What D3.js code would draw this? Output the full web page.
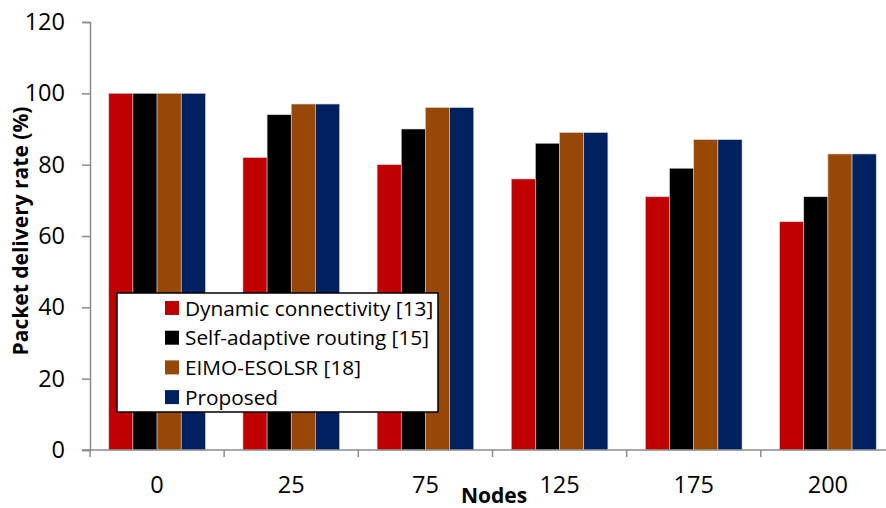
<!DOCTYPE html>
<html>
<head>
<meta charset="utf-8">
<script src="https://cdn.jsdelivr.net/npm/d3@7/dist/d3.min.js"></script>
<style>
  html, body { margin: 0; padding: 0; background: #fff; }
  svg { display: block; font-family: "Open Sans", "Noto Sans", sans-serif; }
</style>
</head>
<body>
<svg id="chart" width="886" height="508"></svg>
<script>
// Packet delivery rate (%) versus number of nodes, four routing schemes
const nodes = ["0", "25", "75", "125", "175", "200"];
const seriesNames = ["Dynamic connectivity [13]", "Self-adaptive routing [15]", "EIMO-ESOLSR [18]", "Proposed"];
const dynamicConnectivity = [100, 82, 80, 76, 71, 64];
const selfAdaptiveRouting = [100, 94, 90, 86, 79, 71];
const eimoEsolsr = [100, 97, 96, 89, 87, 83];
const proposed = [100, 97, 96, 89, 87, 83];
const yTicks = [0, 20, 40, 60, 80, 100, 120];
const colors = ["#C00000", "#000000", "#974706", "#002060"];

const seriesValues = [dynamicConnectivity, selfAdaptiveRouting, eimoEsolsr, proposed];

const svg = d3.select("#chart");
const plot = { left: 90, right: 895, top: 22, bottom: 450 };

const x = d3.scaleBand().domain(nodes).range([plot.left, plot.right]).paddingInner(0.28).paddingOuter(0.14);
const xs = d3.scaleBand().domain(seriesNames).range([0, x.bandwidth()]);
const y = d3.scaleLinear().domain([0, 120]).range([plot.bottom, plot.top]);

// Bars
const groups = svg.append("g").selectAll("g")
  .data(nodes)
  .join("g")
  .attr("transform", d => `translate(${x(d)},0)`);

groups.selectAll("rect")
  .data((d, i) => seriesNames.map((s, k) => ({ s, k, v: seriesValues[k][i] })))
  .join("rect")
  .attr("x", d => xs(d.s))
  .attr("width", xs.bandwidth())
  .attr("y", d => y(d.v))
  .attr("height", d => y(0) - y(d.v))
  .attr("fill", d => colors[d.k])
  .attr("stroke", "#d0d0d0")
  .attr("stroke-width", 0.6);

// Y axis
const yAxis = svg.append("g")
  .attr("transform", `translate(${plot.left},0)`)
  .call(d3.axisLeft(y).tickValues(yTicks).tickSize(8).tickPadding(17));
yAxis.select(".domain").attr("stroke", "#8c8c8c").attr("stroke-width", 1.5);
yAxis.selectAll(".tick line").attr("stroke", "#8c8c8c").attr("stroke-width", 1.5);
yAxis.selectAll("text").attr("font-size", 23.5).attr("fill", "#000").attr("font-family", "Open Sans");

// X axis: baseline with tick marks between categories
const xAxisG = svg.append("g");
xAxisG.append("line")
  .attr("x1", plot.left - 8).attr("x2", plot.right)
  .attr("y1", y(0)).attr("y2", y(0))
  .attr("stroke", "#8c8c8c").attr("stroke-width", 1.5);
const step = x.step();
const boundaries = nodes.slice(1).map(n => x(n) - x.paddingInner() * step / 2);
xAxisG.selectAll("line.tk")
  .data([plot.left].concat(boundaries))
  .join("line")
  .attr("class", "tk")
  .attr("x1", d => d).attr("x2", d => d)
  .attr("y1", y(0)).attr("y2", y(0) + 7)
  .attr("stroke", "#8c8c8c").attr("stroke-width", 1.5);
xAxisG.selectAll("text")
  .data(nodes)
  .join("text")
  .attr("x", d => x(d) + x.bandwidth() / 2)
  .attr("y", 493)
  .attr("text-anchor", "middle")
  .attr("font-size", 23.5)
  .attr("fill", "#000")
  .text(d => d);

// Axis titles
svg.append("text")
  .attr("x", 494).attr("y", 503)
  .attr("text-anchor", "middle")
  .attr("font-size", 21).attr("font-weight", "bold")
  .text("Nodes");

svg.append("text")
  .attr("transform", "translate(28,231) rotate(-90)")
  .attr("text-anchor", "middle")
  .attr("font-size", 21).attr("font-weight", "bold")
  .text("Packet delivery rate (%)");

// Legend
const legend = svg.append("g").attr("transform", "translate(117,293)");
legend.append("rect")
  .attr("width", 321).attr("height", 119)
  .attr("fill", "#fff").attr("stroke", "#000").attr("stroke-width", 1.5);
const rows = legend.selectAll("g.row")
  .data(seriesNames)
  .join("g")
  .attr("class", "row")
  .attr("transform", (d, i) => `translate(48,${15 + i * 29.7})`);
rows.append("rect")
  .attr("y", -7).attr("width", 14).attr("height", 14)
  .attr("fill", (d, i) => colors[i]);
rows.append("text")
  .attr("x", 20).attr("y", 7.5)
  .attr("font-size", 20.8)
  .attr("fill", "#000")
  .text(d => d);
</script>
</body>
</html>
